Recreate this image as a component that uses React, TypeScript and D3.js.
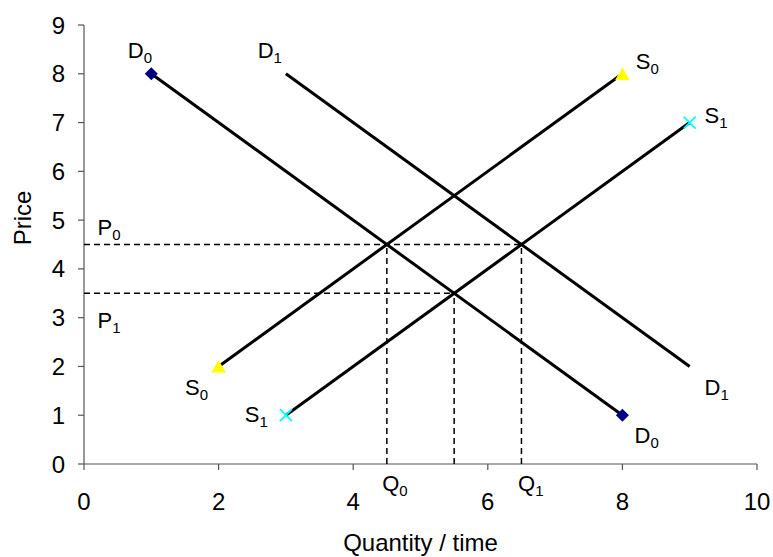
import React from "react";
import * as d3 from "d3";

const xTicks = [0, 2, 4, 6, 8, 10];
const yTicks = [0, 1, 2, 3, 4, 5, 6, 7, 8, 9];

// Curves: [x, y] endpoints
const D0 = [[1, 8], [8, 1]];
const D1 = [[3, 8], [9, 2]];
const S0 = [[2, 2], [8, 8]];
const S1 = [[3, 1], [9, 7]];

// Equilibria: [Q, P]
const equilibria = [[4.5, 4.5], [5.5, 3.5], [6.5, 4.5]];
const priceLines = [[4.5, 6.5], [3.5, 5.5]]; // [P, Q end]

// Labels: [main, sub, x, y] (in data units)
const curveLabels: [string, string, number, number][] = [
  ["D", "0", 0.65, 8.32],
  ["D", "1", 2.58, 8.32],
  ["S", "0", 8.2, 8.1],
  ["S", "1", 9.22, 6.99],
  ["S", "0", 1.5, 1.42],
  ["S", "1", 2.39, 0.86],
  ["D", "1", 9.22, 1.42],
  ["D", "0", 8.18, 0.43],
  ["Q", "0", 4.43, -0.56],
  ["Q", "1", 6.45, -0.56],
  ["P", "0", 0.2, 4.7],
  ["P", "1", 0.2, 2.79],
];

export default function App() {
  const W = 773, H = 557;
  const x = d3.scaleLinear().domain([0, 10]).range([84, 757]);
  const y = d3.scaleLinear().domain([0, 9]).range([464, 25]);
  const line = d3.line<number[]>().x(d => x(d[0])).y(d => y(d[1]));
  const fs = 24;
  const lfs = 22;
  const font = "Arial, 'Liberation Sans', sans-serif";

  const diamond = d3.symbol().type(d3.symbolSquare).size(85)();
  const tri = d3.symbol().type(d3.symbolTriangle).size(90)();

  return (
    <svg width={W} height={H} style={{ position: "absolute", left: 0, top: 0 }} fontFamily={font}>
      <rect width={W} height={H} fill="#fff" />
      {/* axes */}
      <line x1={x(0)} x2={x(10)} y1={y(0)} y2={y(0)} stroke="#555" strokeWidth={1.2} />
      <line x1={x(0)} x2={x(0)} y1={y(0)} y2={y(9)} stroke="#555" strokeWidth={1.2} />
      {xTicks.map(t => (
        <g key={"xt" + t}>
          <line x1={x(t)} x2={x(t)} y1={y(0)} y2={y(0) + 6} stroke="#555" strokeWidth={1.2} />
          <text x={x(t)} y={y(0) + 46} textAnchor="middle" fontSize={fs} fill="#000">{t}</text>
        </g>
      ))}
      {yTicks.map(t => (
        <g key={"yt" + t}>
          <line x1={x(0) - 6} x2={x(0)} y1={y(t)} y2={y(t)} stroke="#555" strokeWidth={1.2} />
          <text x={x(0) - 19} y={y(t) + 8.5} textAnchor="end" fontSize={fs} fill="#000">{t}</text>
        </g>
      ))}
      {/* dashed lines */}
      {priceLines.map(([p, q], i) => (
        <line key={"pl" + i} x1={x(0)} x2={x(q)} y1={y(p)} y2={y(p)} stroke="#000" strokeWidth={1.5} strokeDasharray="6,4" />
      ))}
      {equilibria.map(([q, p], i) => (
        <line key={"ql" + i} x1={x(q)} x2={x(q)} y1={y(0)} y2={y(p)} stroke="#000" strokeWidth={1.5} strokeDasharray="6,4" />
      ))}
      {/* curves */}
      {[D0, D1, S0, S1].map((c, i) => (
        <path key={"c" + i} d={line(c as any) || ""} fill="none" stroke="#000" strokeWidth={3} />
      ))}
      {/* markers */}
      {D0.map((p, i) => (
        <path key={"dm" + i} d={diamond || ""} transform={`translate(${x(p[0])},${y(p[1])}) rotate(45)`} fill="#000080" />
      ))}
      {S0.map((p, i) => (
        <path key={"tm" + i} d={tri || ""} transform={`translate(${x(p[0])},${y(p[1]) + 2})`} fill="#FFFF00" />
      ))}
      {S1.map((p, i) => (
        <g key={"xm" + i} transform={`translate(${x(p[0])},${y(p[1])})`} stroke="#00FFFF" strokeWidth={1.8}>
          <line x1={-6} y1={-6} x2={6} y2={6} />
          <line x1={-6} y1={6} x2={6} y2={-6} />
        </g>
      ))}
      {/* labels */}
      {curveLabels.map(([m, s, lx, ly], i) => (
        <text key={"lb" + i} x={x(lx)} y={y(ly)} fontSize={lfs} fill="#000">
          {m}
          <tspan fontSize={15} dy={5}>{s}</tspan>
        </text>
      ))}
      <text x={x(5)} y={551} textAnchor="middle" fontSize={fs} fill="#000">Quantity / time</text>
      <text transform={`translate(31,${218}) rotate(-90)`} textAnchor="middle" fontSize={fs} fill="#000">Price</text>
    </svg>
  );
}
